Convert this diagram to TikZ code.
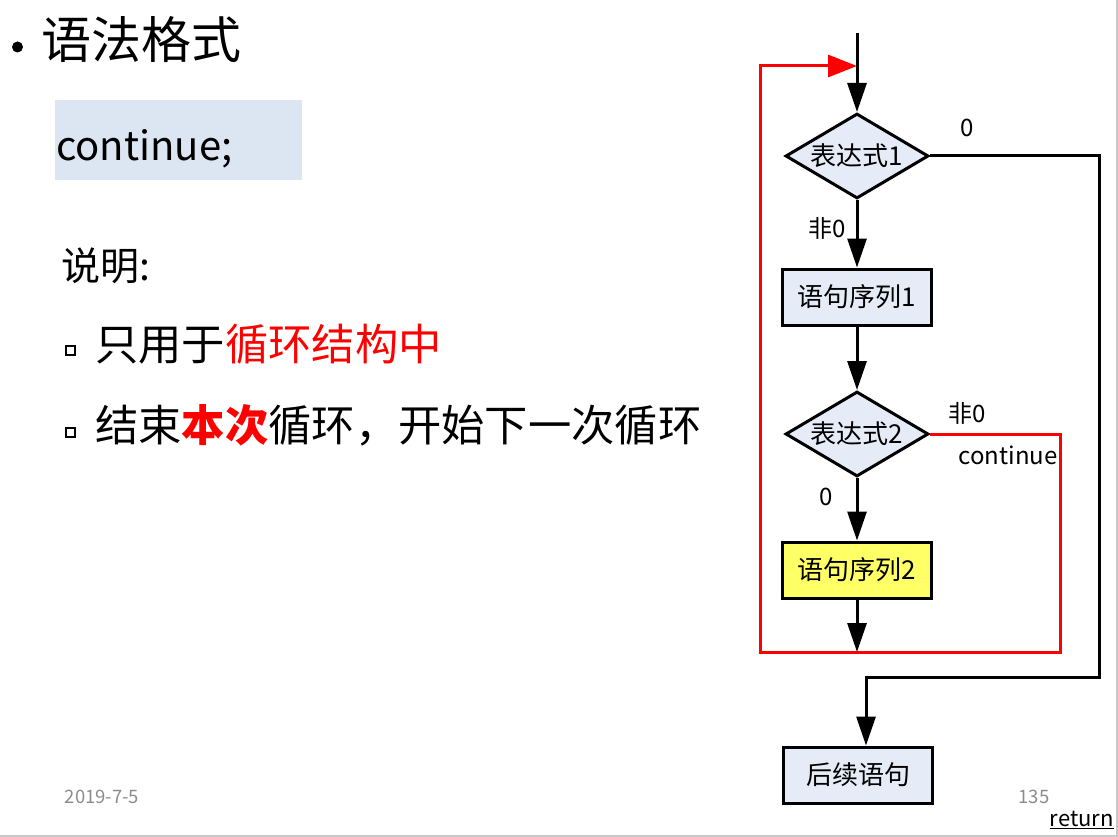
\documentclass[tikz,border=0pt]{standalone}
\usepackage{fontspec}
\setmainfont{Noto Sans CJK SC}
\usetikzlibrary{shapes.geometric,arrows.meta}

\definecolor{boxblue}{HTML}{E6ECF7}
\definecolor{codebg}{HTML}{DCE6F2}
\definecolor{boxyellow}{HTML}{FFFF66}
\definecolor{footgray}{HTML}{8C8C8C}
\definecolor{framegray}{HTML}{C8C8C8}

\tikzset{
  proc/.style={draw=black, line width=3pt, fill=boxblue, minimum width=149pt,
    minimum height=56pt, inner sep=0pt, font=\fontsize{26}{30}\selectfont},
  cond/.style={diamond, aspect=1.66, draw=black, line width=3pt, fill=boxblue, minimum width=143pt,
    minimum height=85pt, inner sep=0pt, font=\fontsize{26}{30}\selectfont},
  flow/.style={line width=3pt, -{Triangle[length=29pt,width=19pt]}},
  redflow/.style={red, line width=3pt, -{Triangle[length=29pt,width=22pt]}},
  lbl/.style={inner sep=0pt, font=\fontsize{24}{28}\selectfont},
  foot/.style={inner sep=0pt, text=footgray, font=\fontsize{18.5}{22}\selectfont},
  body/.style={anchor=west, inner sep=0pt, font=\fontsize{43.3}{50}\selectfont}
}

\begin{document}
\begin{tikzpicture}[x=1pt,y=-1pt]
  \useasboundingbox (0,0) rectangle (1118,837);
  % frame
  \draw[framegray, line width=2pt] (1117,0) -- (1117,836) -- (0,836);

  % left column
  \fill (17.5,47) circle (5.5);
  \node[body, font=\fontsize{50}{56}\selectfont] (title) at (41,40) {语法格式};
  \fill[codebg] (55,100) rectangle (302,180);
  \node[anchor=base west, inner sep=0pt, font=\fontsize{40}{46}\selectfont] (code) at (56,161) {continue;};
  \node[body, font=\fontsize{39}{44}\selectfont] (note) at (61,266) {说明:};
  \foreach \y in {350,432}
    \draw[line width=2pt] (66,\y-4.5) rectangle +(9,9);
  \node[body] (usea) at (95,344) {只用于\textcolor{red}{循环结构中}};
  \node[body] (useb) at (95,425) {结束\textcolor{red}{\bfseries 本次}循环，开始下一次循环};

  % flowchart
  \def\cx{857}
  \coordinate (entry) at (\cx,33);
  \coordinate (join) at (\cx,66);
  \node[cond] (e1) at (\cx,156) {表达式1};
  \node[proc] (s1) at (\cx,297) {语句序列1};
  \node[cond] (e2) at (\cx,434) {表达式2};
  \node[proc, fill=boxyellow] (s2) at (\cx,570) {语句序列2};
  \node[proc] (next) at (858,775) {后续语句};
  \coordinate (rr) at (1060,652);
  \coordinate (rl) at (760,652);
  \coordinate (rt) at (760,66);
  \coordinate (br) at (1099,677);
  \coordinate (bl) at (866,677);

  % continue path
  \draw[redflow] (e2.east) -| (rr) -- (rl) -- (rt) -- (join);

  \draw[flow] (entry) -- (e1.north);
  \draw[flow] (e1.south) -- (s1.north);
  \draw[flow] (s1.south) -- (e2.north);
  \draw[flow] (e2.south) -- (s2.north);
  \draw[flow] (s2.south) -- (s2.south |- rl);
  \draw[flow] (e1.east) -| (br) -- (bl) -- (bl |- next.north);

  \node[lbl] (zeroa) at (967,128) {0};
  \node[lbl] (nza) at (827,228) {非0};
  \node[lbl] (nzb) at (967,413) {非0};
  \node[lbl] (cont) at (1008,455) {continue};
  \node[lbl] (zerob) at (826,497) {0};

  % footer
  \node[foot] (date) at (102,797) {2019-7-5};
  \node[foot] (page) at (1034,797) {135};
  \node[anchor=east, inner sep=0pt, font=\fontsize{22}{26}\selectfont] (ret) at (1114,820) {\underline{return}};
\end{tikzpicture}
\end{document}
